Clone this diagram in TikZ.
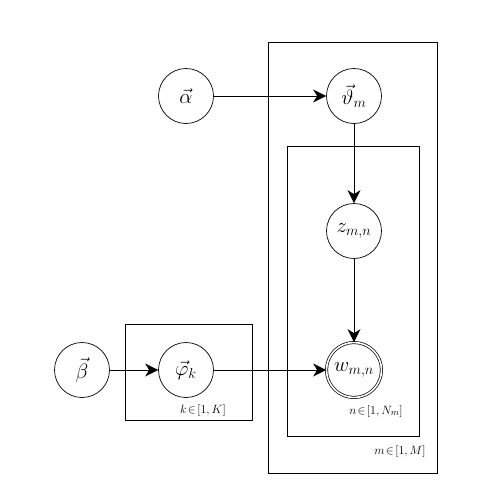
\documentclass[tikz,border=0pt]{standalone}
\usetikzlibrary{arrows.meta}
\begin{document}
\begin{tikzpicture}[x=1pt,y=-1pt,
  var/.style={circle,draw,line width=0.7pt,minimum size=55pt,inner sep=0pt,font=\fontsize{20}{24}\selectfont},
  obs/.style={var,double,double distance=1.6pt},
  plate/.style={draw,line width=0.8pt},
  edge/.style={line width=0.8pt,-{Stealth[length=13pt,width=13pt,inset=4pt]}},
  lbl/.style={font=\fontsize{12.5}{14}\selectfont,inner sep=0pt}]
\useasboundingbox (0,0) rectangle (486,501);
% plates
\draw[plate] (268,42) rectangle (437,473);
\draw[plate] (287,146) rectangle (419,436);
\draw[plate] (125,324) rectangle (252,420);
% variables
\node[var] (alpha) at (186,96) {$\vec{\alpha}$};
\node[var] (theta) at (354,96) {$\vec{\vartheta}_m$};
\node[var] (z) at (354,231) {$z_{m,n}$};
\node[obs] (w) at (354,370) {$w_{m,n}$};
\node[var] (beta) at (82,370) {$\vec{\beta}$};
\node[var] (phi) at (186,370) {$\vec{\varphi}_k$};
% plate labels
\node[lbl] (lk) at (203,410) {$k\!\in\![1,K]$};
\node[lbl] (ln) at (376,411) {$n\!\in\![1,N_m]$};
\node[lbl] (lm) at (400,451) {$m\!\in\![1,M]$};
% edges
\draw[edge] (alpha) -- (theta);
\draw[edge] (theta) -- (z);
\draw[edge] (z) -- (w);
\draw[edge] (beta) -- (phi);
\draw[edge] (phi) -- (w);
\end{tikzpicture}
\end{document}
